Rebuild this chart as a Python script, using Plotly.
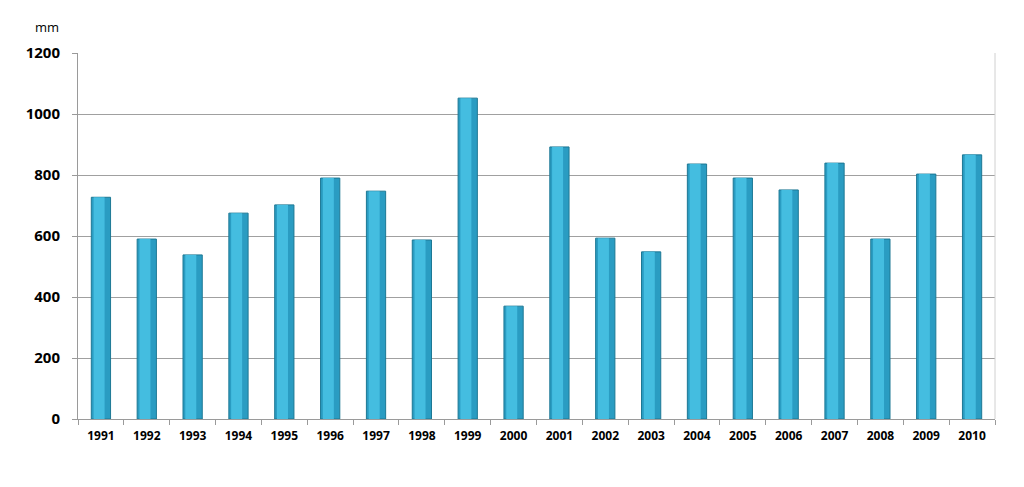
import plotly.graph_objects as go

years = ["1991", "1992", "1993", "1994", "1995", "1996", "1997", "1998", "1999", "2000",
         "2001", "2002", "2003", "2004", "2005", "2006", "2007", "2008", "2009", "2010"]
rain_mm = [727, 590, 538, 675, 702, 790, 747, 587, 1052, 370,
           892, 593, 548, 836, 790, 751, 839, 590, 803, 866]
y_ticks = [0, 200, 400, 600, 800, 1000, 1200]

fig = go.Figure()
# main bar body (darker edge)
fig.add_trace(go.Bar(
    x=years, y=rain_mm, width=0.42,
    marker=dict(color="#2a9cc2", line=dict(color="#1d7894", width=1)),
    hoverinfo="x+y", showlegend=False,
))
# lighter highlight band to hint at the cylindrical shading
fig.add_trace(go.Bar(
    x=years, y=rain_mm, width=0.24, offset=-0.16,
    marker=dict(color="#44bde0", line=dict(width=0)),
    hoverinfo="skip", showlegend=False,
))

fig.update_layout(
    width=1024, height=487,
    margin=dict(l=78, r=29, t=53, b=68),
    paper_bgcolor="white", plot_bgcolor="white",
    barmode="overlay",
    font=dict(family="Open Sans, Liberation Sans, sans-serif", color="#000"),
    xaxis=dict(
        type="category", showgrid=False,
        showline=True, linecolor="#9a9a9a", linewidth=1,
        ticks="outside", tickson="boundaries", ticklen=5, tickcolor="#9a9a9a",
        ticklabelstandoff=6,
        tickfont=dict(size=12, family="Open Sans", weight="bold"),
    ),
    yaxis=dict(
        range=[0, 1200], tickvals=y_ticks,
        showgrid=True, gridcolor="#a0a0a0", gridwidth=1,
        showline=True, linecolor="#9a9a9a", linewidth=1,
        ticks="outside", ticklen=5, tickcolor="#9a9a9a",
        ticklabelstandoff=9,
        tickfont=dict(size=15, family="Open Sans", weight="bold"),
        zeroline=False,
    ),
    shapes=[dict(type="line", xref="paper", yref="paper", x0=1, x1=1, y0=0, y1=1,
                 line=dict(color="#d0d0d0", width=1))],
    annotations=[dict(text="mm", xref="paper", yref="paper", x=-0.019, y=1.04,
                      xanchor="right", yanchor="bottom", showarrow=False,
                      font=dict(size=13, family="Open Sans"))],
)

fig.write_html("out.html")
